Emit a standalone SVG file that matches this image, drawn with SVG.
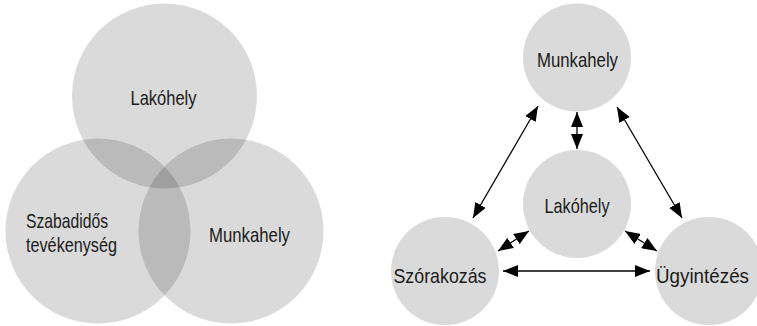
<svg xmlns="http://www.w3.org/2000/svg" width="757" height="326" viewBox="0 0 757 326">
<style>
text{font-family:"Liberation Sans",Arial,sans-serif;font-size:21px;fill:#1a1a1a}
.c{text-anchor:middle}
.v{fill:#000;fill-opacity:0.145}
.n{fill:#dadada}
.a{stroke:#000;stroke-width:1.3;fill:none;marker-start:url(#ah);marker-end:url(#ah)}
</style>
<defs>
<marker id="ah" markerUnits="userSpaceOnUse" viewBox="0 0 15 12" refX="15" refY="6" markerWidth="15" markerHeight="12" orient="auto-start-reverse">
<path d="M0,0 L15,6 L0,12 z" fill="#000"/>
</marker>
</defs>
<rect width="757" height="326" fill="#fff"/>
<g id="venn">
<g id="venn-lakohely"><circle class="v" cx="164.5" cy="96" r="92.5"/></g>
<g id="venn-szabadido"><circle class="v" cx="98" cy="231" r="92.5"/></g>
<g id="venn-munkahely"><circle class="v" cx="231" cy="231" r="92.5"/></g>
<text class="c" x="163.5" y="104.5" textLength="66" lengthAdjust="spacingAndGlyphs">Lakóhely</text>
<text x="26" y="228" textLength="82" lengthAdjust="spacingAndGlyphs">Szabadidős</text>
<text x="26" y="251.5" textLength="91" lengthAdjust="spacingAndGlyphs">tevékenység</text>
<text class="c" x="249.5" y="241.5" textLength="81" lengthAdjust="spacingAndGlyphs">Munkahely</text>
</g>
<g id="n-munkahely"><circle class="n" cx="577" cy="57.5" r="54"/><text class="c" x="577.5" y="66.5" textLength="81" lengthAdjust="spacingAndGlyphs">Munkahely</text></g>
<g id="n-lakohely"><circle class="n" cx="577" cy="204" r="54"/><text class="c" x="577" y="213" textLength="65" lengthAdjust="spacingAndGlyphs">Lakóhely</text></g>
<g id="n-szorakozas"><circle class="n" cx="445" cy="271" r="54"/><text class="c" x="440" y="283" textLength="93" lengthAdjust="spacingAndGlyphs">Szórakozás</text></g>
<g id="n-ugyintezes"><circle class="n" cx="709" cy="271" r="54"/><text class="c" x="702.5" y="283" textLength="93" lengthAdjust="spacingAndGlyphs">Ügyintézés</text></g>
<g id="connectors">
<line class="a" x1="538" y1="106" x2="473" y2="218"/>
<line class="a" x1="617" y1="107" x2="682" y2="218"/>
<line class="a" x1="577" y1="112" x2="577" y2="149"/>
<line class="a" x1="529" y1="231" x2="498" y2="251"/>
<line class="a" x1="625" y1="231" x2="657" y2="251"/>
<line class="a" x1="503" y1="271" x2="650" y2="271"/>
</g>
</svg>
